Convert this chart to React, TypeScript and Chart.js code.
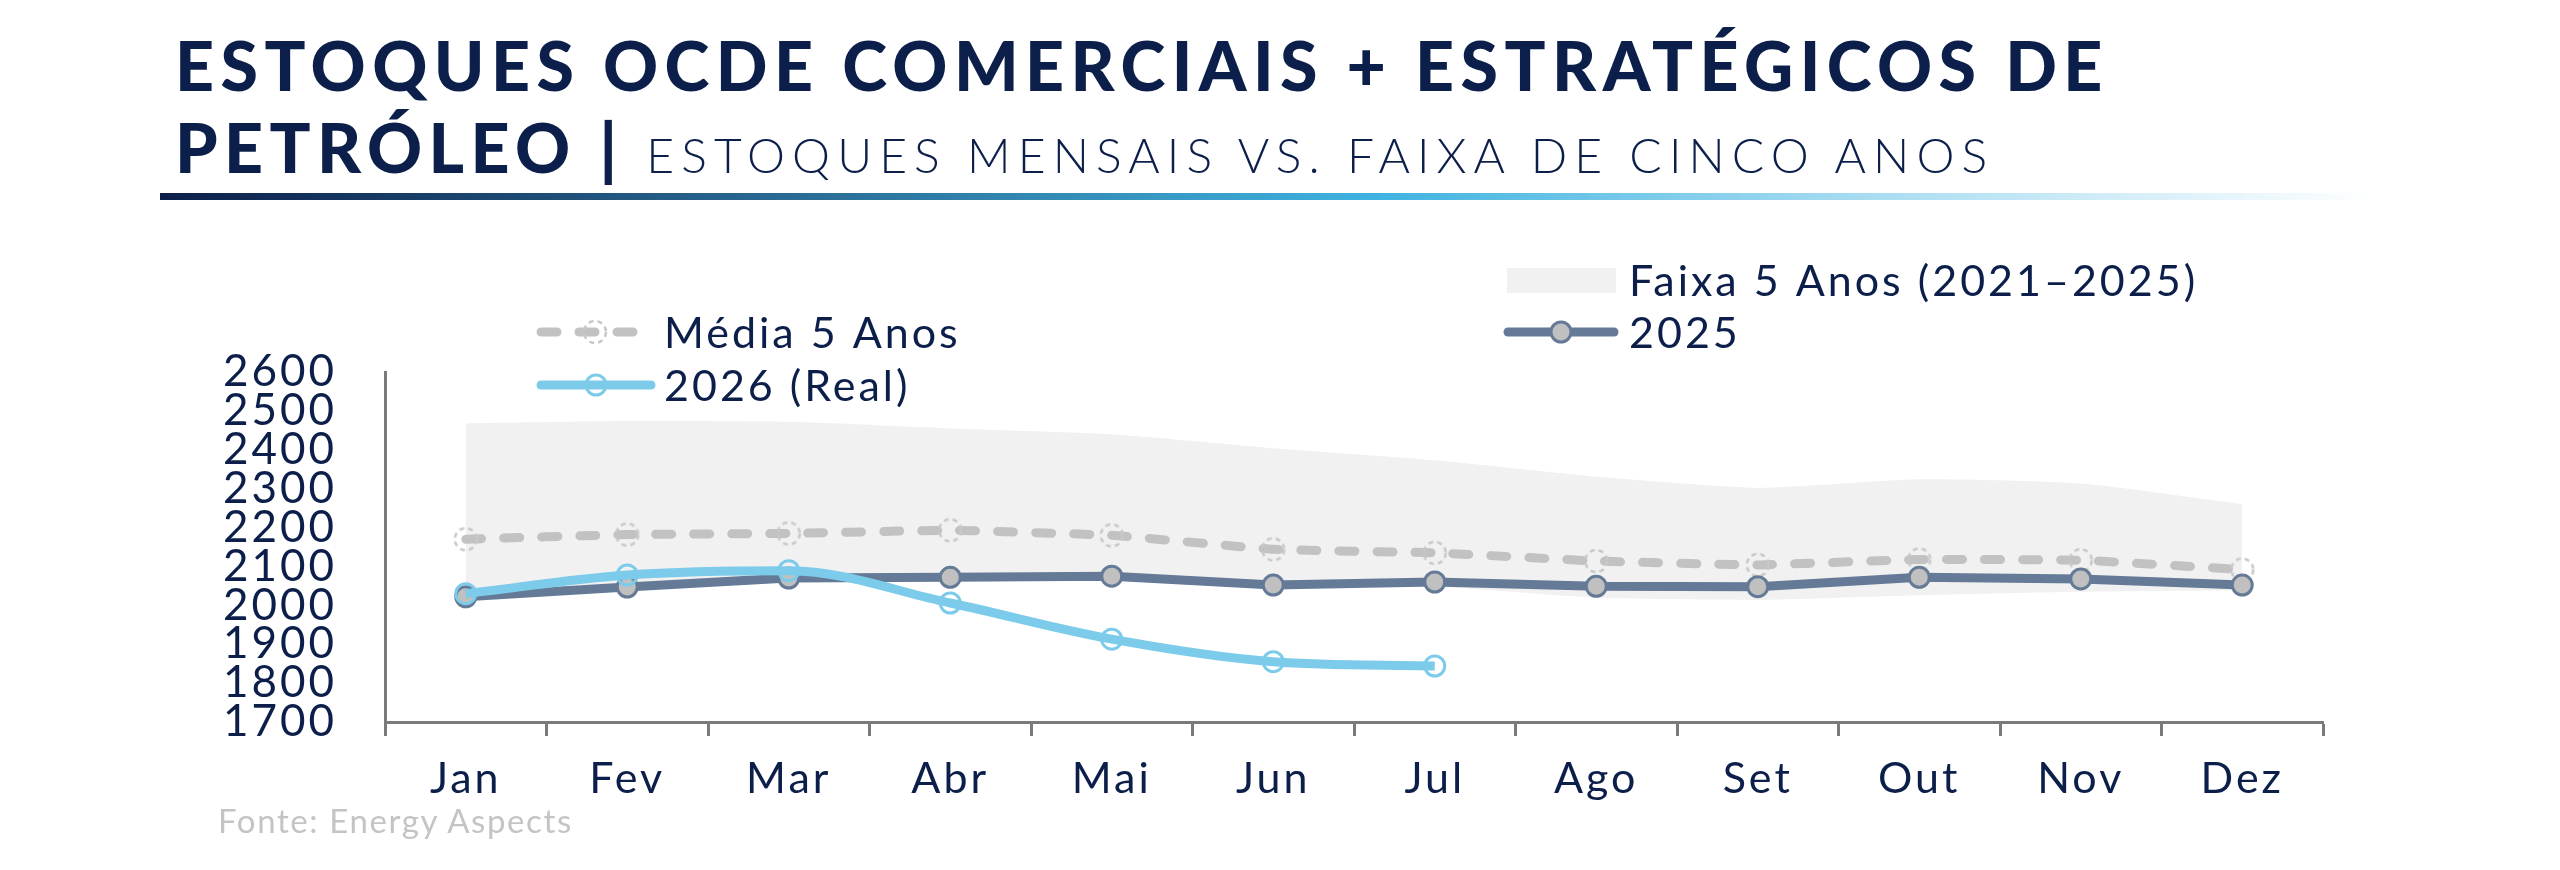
import { useEffect, useRef } from 'react';
import { Chart, registerables } from 'chart.js';

Chart.register(...registerables);

// data
const months = ['Jan', 'Fev', 'Mar', 'Abr', 'Mai', 'Jun', 'Jul', 'Ago', 'Set', 'Out', 'Nov', 'Dez'];
const bandLow = [2015, 2040, 2062, 2065, 2065, 2045, 2048, 2020, 2014, 2026, 2035, 2039];
const bandHigh = [2468, 2474, 2472, 2455, 2440, 2404, 2373, 2331, 2302, 2324, 2313, 2260];
const avg5 = [2170, 2182, 2185, 2193, 2180, 2144, 2135, 2114, 2104, 2118, 2116, 2092];
const stocks2025 = [2022, 2047, 2070, 2072, 2075, 2052, 2060, 2049, 2048, 2072, 2068, 2052];
const stocks2026 = [2030, 2078, 2089, 2006, 1913, 1855, 1844, null, null, null, null, null];

const NAVY = '#0c1f4a';
const AVG_COLOR = '#c2c2c2';
const C2025 = '#647a96';
const C2026 = '#7ccbea';
const BAND = '#f1f1f1';
const FONT = 'Lato, "Open Sans", sans-serif';

// dashed hollow circle used as point for the 5 year average
function dashedCircle() {
  const c = document.createElement('canvas');
  c.width = 28;
  c.height = 28;
  const ctx = c.getContext('2d')!;
  ctx.setLineDash([5, 4]);
  ctx.lineWidth = 2.5;
  ctx.strokeStyle = '#c8c8c8';
  ctx.beginPath();
  ctx.arc(14, 14, 11, 0, Math.PI * 2);
  ctx.stroke();
  return c;
}

// wider text, the original font is a wide geometric one
const spacingPlugin = {
  id: 'spacing',
  beforeDraw: (chart: any) => {
    chart.ctx.letterSpacing = '3px';
  },
};

// custom legend drawn on the canvas, two loose groups like the original
const legendPlugin = {
  id: 'customLegend',
  afterDraw: (chart: any) => {
    const { ctx } = chart;
    ctx.save();
    ctx.font = `43px ${FONT}`;
    ctx.letterSpacing = '3px';
    ctx.textBaseline = 'middle';
    ctx.textAlign = 'left';
    ctx.lineCap = 'round';

    // Faixa 5 Anos
    ctx.fillStyle = BAND;
    ctx.fillRect(1507, 268, 109, 25);
    ctx.fillStyle = NAVY;
    ctx.fillText('Faixa 5 Anos (2021–2025)', 1629, 282);

    // 2025
    ctx.strokeStyle = C2025;
    ctx.lineWidth = 9;
    ctx.beginPath();
    ctx.moveTo(1508, 332);
    ctx.lineTo(1614, 332);
    ctx.stroke();
    ctx.fillStyle = '#c0c0c0';
    ctx.lineWidth = 3;
    ctx.beginPath();
    ctx.arc(1561, 332, 10, 0, Math.PI * 2);
    ctx.fill();
    ctx.stroke();
    ctx.fillStyle = NAVY;
    ctx.fillText('2025', 1629, 334);

    // Média 5 Anos
    ctx.strokeStyle = AVG_COLOR;
    ctx.lineWidth = 9;
    ctx.setLineDash([16, 22]);
    ctx.beginPath();
    ctx.moveTo(541, 332);
    ctx.lineTo(641, 332);
    ctx.stroke();
    ctx.setLineDash([]);
    ctx.drawImage(dashedCircle(), 595 - 14, 332 - 14);
    ctx.fillStyle = NAVY;
    ctx.fillText('Média 5 Anos', 664, 334);

    // 2026 (Real)
    ctx.strokeStyle = C2026;
    ctx.lineWidth = 9;
    ctx.beginPath();
    ctx.moveTo(541, 385);
    ctx.lineTo(651, 385);
    ctx.stroke();
    ctx.lineWidth = 3;
    ctx.beginPath();
    ctx.arc(596, 385, 10, 0, Math.PI * 2);
    ctx.stroke();
    ctx.fillStyle = NAVY;
    ctx.fillText('2026 (Real)', 664, 387);

    ctx.restore();
  },
};

export default function App() {
  const canvasRef = useRef<HTMLCanvasElement | null>(null);

  useEffect(() => {
    if (!canvasRef.current) return;
    const avgPoint = dashedCircle();

    const chart = new Chart(canvasRef.current, {
      type: 'line',
      data: {
        labels: months,
        datasets: [
          {
            label: 'band-low',
            data: bandLow,
            borderWidth: 0,
            pointRadius: 0,
            fill: false,
            tension: 0.2,
            order: 5,
          },
          {
            label: 'Faixa 5 Anos (2021–2025)',
            data: bandHigh,
            borderWidth: 0,
            pointRadius: 0,
            backgroundColor: BAND,
            fill: '-1',
            tension: 0.2,
            order: 4,
          },
          {
            label: 'Média 5 Anos',
            data: avg5,
            borderColor: AVG_COLOR,
            borderWidth: 9,
            borderDash: [16, 22],
            borderCapStyle: 'round',
            pointStyle: avgPoint,
            tension: 0.1,
            order: 3,
          },
          {
            label: '2025',
            data: stocks2025,
            borderColor: C2025,
            borderWidth: 9,
            pointRadius: 10,
            pointBorderWidth: 3,
            pointBackgroundColor: '#c0c0c0',
            pointBorderColor: C2025,
            tension: 0,
            order: 2,
          },
          {
            label: '2026 (Real)',
            data: stocks2026,
            borderColor: C2026,
            borderWidth: 9,
            pointRadius: 10,
            pointBorderWidth: 3,
            pointBackgroundColor: 'rgba(0,0,0,0)',
            pointBorderColor: C2026,
            cubicInterpolationMode: 'monotone',
            order: 1,
          },
        ],
      },
      options: {
        animation: false,
        responsive: false,
        devicePixelRatio: 1,
        layout: { padding: { left: 225, right: 237, top: 372, bottom: 48 } },
        plugins: { legend: { display: false }, tooltip: { enabled: false } },
        scales: {
          x: {
            offset: true,
            grid: {
              offset: true,
              drawOnChartArea: false,
              drawTicks: true,
              tickLength: 14,
              tickColor: '#7a7a7a',
              tickWidth: 3,
            },
            border: { color: '#7a7a7a', width: 3 },
            ticks: { color: NAVY, padding: 22, font: { family: FONT, size: 43, lineHeight: 1 } },
            afterFit: (scale: any) => {
              scale.height = 100;
            },
          },
          y: {
            min: 1700,
            max: 2600,
            grid: { drawOnChartArea: false, drawTicks: false },
            border: { color: '#7a7a7a', width: 3 },
            ticks: {
              stepSize: 100,
              autoSkip: false,
              color: NAVY,
              padding: 48,
              font: { family: FONT, size: 44, lineHeight: 1 },
              callback: (v: any) => String(v),
            },
            afterFit: (scale: any) => {
              scale.width = 160;
            },
          },
        },
      } as any,
      plugins: [spacingPlugin, legendPlugin],
    });

    return () => chart.destroy();
  }, []);

  return (
    <div style={{ position: 'fixed', left: 0, top: 0, width: 2560, height: 870, background: '#fff', overflow: 'hidden' }}>
      <canvas ref={canvasRef} width={2560} height={870} style={{ position: 'absolute', left: 0, top: 0 }} />
      <div
        style={{
          position: 'absolute',
          left: 175,
          top: 24,
          fontFamily: FONT,
          fontWeight: 900,
          fontSize: 68,
          lineHeight: '82px',
          letterSpacing: '0.095em',
          color: NAVY,
          whiteSpace: 'nowrap',
        }}
      >
        <div>ESTOQUES OCDE COMERCIAIS + ESTRATÉGICOS DE</div>
        <div>
          PETRÓLEO <span style={{ fontWeight: 900 }}>|</span>{' '}
          <span style={{ fontWeight: 300, fontSize: 48, letterSpacing: '0.148em' }}>
            ESTOQUES MENSAIS VS. FAIXA DE CINCO ANOS
          </span>
        </div>
      </div>
      <div
        style={{
          position: 'absolute',
          left: 160,
          top: 193,
          width: 2214,
          height: 7,
          background: 'linear-gradient(to right, #0c1f4a 0%, #2a6f98 30%, #3fb3e0 55%, #9fd9f0 75%, #ffffff 100%)',
        }}
      />
      <div
        style={{
          position: 'absolute',
          left: 218,
          top: 800,
          fontFamily: FONT,
          fontSize: 33,
          letterSpacing: '1.6px',
          color: '#c4c4c4',
          whiteSpace: 'nowrap',
        }}
      >
        Fonte: Energy Aspects
      </div>
    </div>
  );
}
